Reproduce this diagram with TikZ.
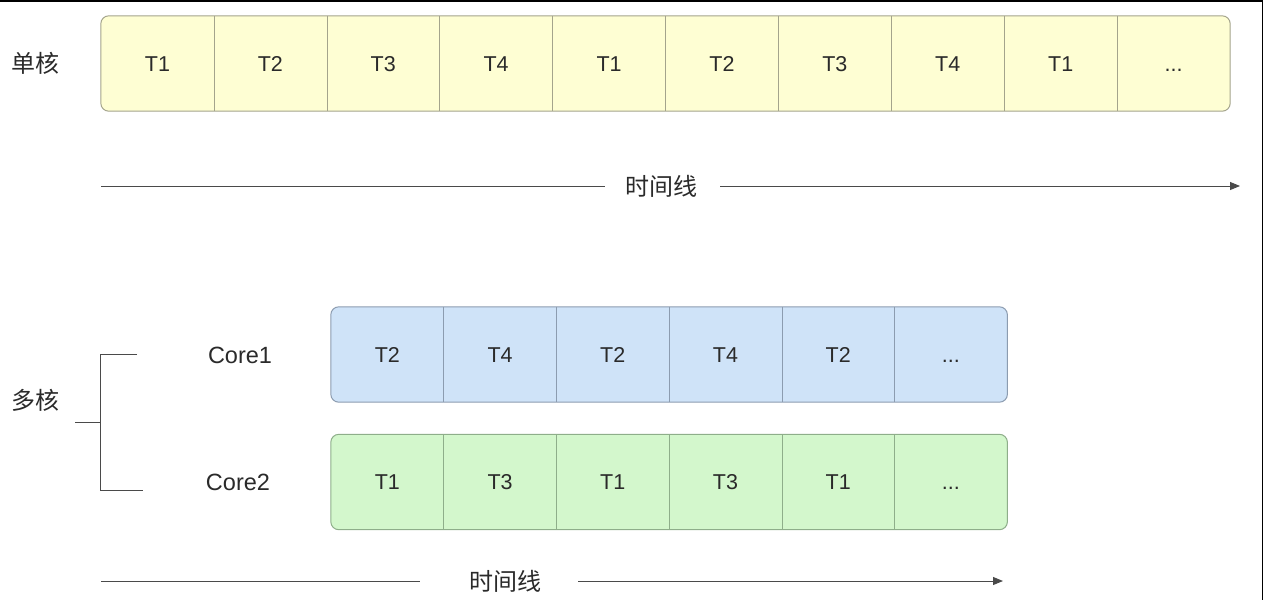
\documentclass[tikz,border=0pt]{standalone}
\usepackage{fontspec}
\setmainfont{Liberation Sans}
\newfontfamily\cjk{Noto Sans CJK SC}
\usetikzlibrary{arrows.meta,backgrounds}
\newcommand\myelli{...}
\definecolor{yfill}{HTML}{FEFED3}
\definecolor{ydraw}{HTML}{A4A48C}
\definecolor{bfill}{HTML}{CFE3F8}
\definecolor{bdraw}{HTML}{8C9CB0}
\definecolor{gfill}{HTML}{D3F7CC}
\definecolor{gdraw}{HTML}{8EAE8A}
\definecolor{txt}{HTML}{2A2A2A}
\definecolor{ln}{HTML}{4A4A4A}
\tikzset{
  cell/.style={inner sep=0pt, minimum height=95pt, text=txt, text height=15pt, text depth=0pt,
    font=\fontsize{21.5}{24}\selectfont},
  ycell/.style={cell, minimum width=112.9pt},
  bcell/.style={cell, minimum width=112.7pt},
  outer/.style={rounded corners=8pt, line width=1pt},
  divider/.style={line width=1pt},
  cn/.style={text=txt, font=\cjk\fontsize{24}{26}\selectfont, inner sep=1pt},
  corelbl/.style={text=txt, font=\fontsize{23.5}{26}\selectfont, inner sep=1pt},
  timeline/.style={draw=ln, line width=1pt},
  tip/.style={-{Triangle[length=10pt,width=8pt]}},
  brk/.style={draw=ln, line width=0.9pt}
}
\begin{document}
\begin{tikzpicture}[x=1pt,y=-1pt]
\useasboundingbox (0,0) rectangle (1263,600);
% frame edges seen in the reference
\draw[black, line width=1.5pt] (0,0.75) -- (1263,0.75);
\draw[black, line width=1.5pt] (1262.25,0) -- (1262.25,600);

% single core row
\foreach \i/\t in {1/T1,2/T2,3/T3,4/T4,5/T1,6/T2,7/T3,8/T4,9/T1,10/\myelli}
  \node[ycell] (s\i) at ({101+112.9*(\i-0.5)},63.5) {\t};
\begin{scope}[on background layer]
  \draw[outer, fill=yfill, draw=ydraw] (s1.north west) rectangle (s10.south east);
\end{scope}
\foreach \i in {1,2,3,4,5,6,7,8,9}
  \draw[divider, draw=ydraw] (s\i.north east) -- (s\i.south east);

\node[cn] (single) at (36,63) {单核};

% timeline 1
\node[cn] (tl1) at (661,186) {时间线};
\coordinate (a1s) at (101,186);
\coordinate (a1e) at (1240,186);
\draw[timeline] (a1s) -- (tl1.west -| 605,0);
\draw[timeline, tip] (tl1.east -| 720,0) -- (a1e);

% multi core rows
\foreach \i/\t in {1/T2,2/T4,3/T2,4/T4,5/T2,6/\myelli}
  \node[bcell] (c\i) at ({331+112.7*(\i-0.5)},354.5) {\t};
\foreach \i/\t in {1/T1,2/T3,3/T1,4/T3,5/T1,6/\myelli}
  \node[bcell] (d\i) at ({331+112.7*(\i-0.5)},482) {\t};
\begin{scope}[on background layer]
  \draw[outer, fill=bfill, draw=bdraw] (c1.north west) rectangle (c6.south east);
  \draw[outer, fill=gfill, draw=gdraw] (d1.north west) rectangle (d6.south east);
\end{scope}
\foreach \i in {1,2,3,4,5} {
  \draw[divider, draw=bdraw] (c\i.north east) -- (c\i.south east);
  \draw[divider, draw=gdraw] (d\i.north east) -- (d\i.south east);
}

\node[corelbl] (core1) at (240,355) {Core1};
\node[corelbl] (core2) at (238,482) {Core2};
\node[cn] (multi) at (36,400) {多核};

% bracket
\coordinate (bt) at (137,354);
\coordinate (btl) at (100,354);
\coordinate (bbl) at (100,490);
\coordinate (bb) at (143,490);
\coordinate (bm) at (100,422);
\coordinate (bs) at (75,422);
\draw[brk] (bt) -- (btl) -- (bbl) -- (bb);
\draw[brk] (bs) -- (bm);

% timeline 2
\node[cn] (tl2) at (505,581) {时间线};
\coordinate (a2s) at (101,581);
\coordinate (a2e) at (1003,581);
\draw[timeline] (a2s) -- (tl2.west -| 420,0);
\draw[timeline, tip] (tl2.east -| 578,0) -- (a2e);
\end{tikzpicture}
\end{document}
